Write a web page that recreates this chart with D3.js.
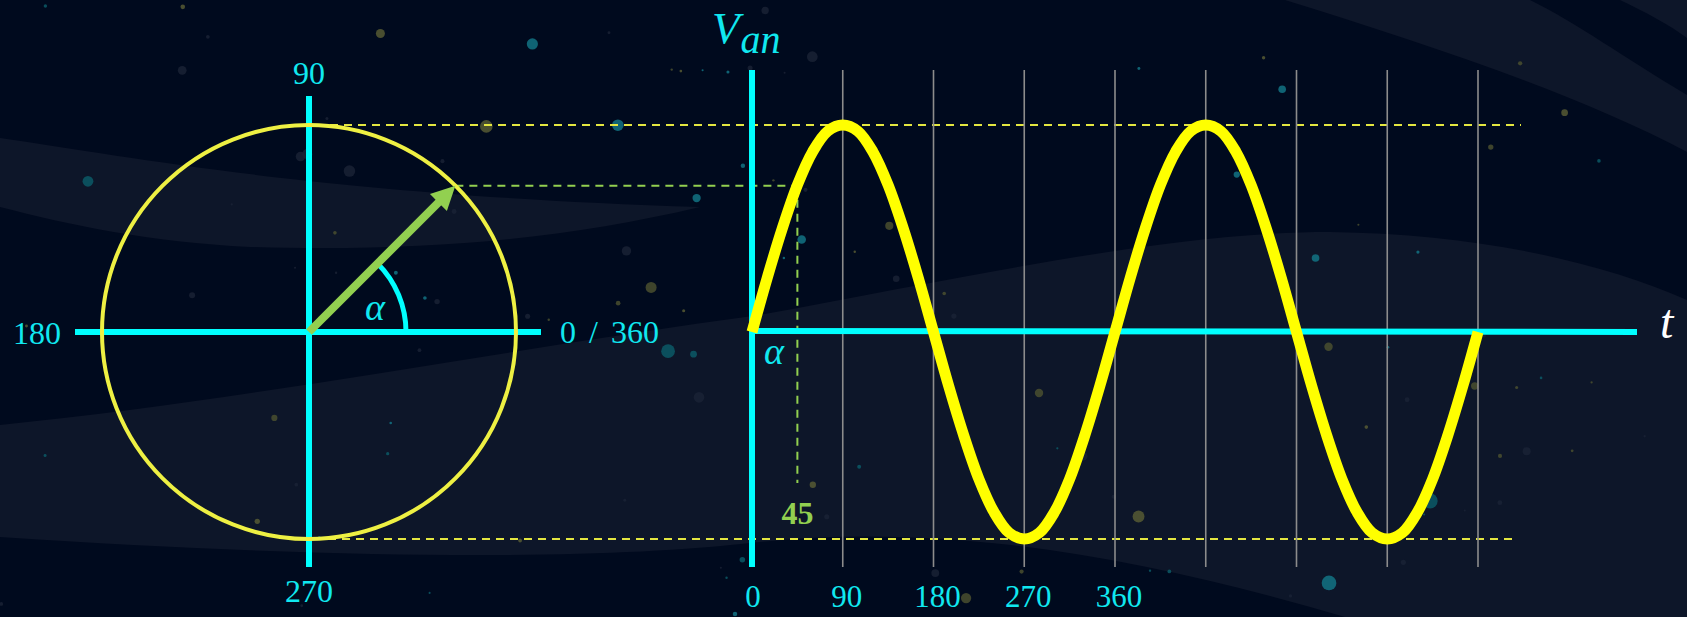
<!DOCTYPE html>
<html>
<head>
<meta charset="utf-8">
<script src="https://cdn.jsdelivr.net/npm/d3@7"></script>
<style>
  html, body { margin: 0; padding: 0; background: #000a1e; overflow: hidden; }
  svg { display: block; }
  text { font-family: "Liberation Serif", "DejaVu Serif", serif; }
</style>
</head>
<body>
<div id="wrap"></div>
<script>
// phasor on the left, Van(t) on the right

var phasorAngle = 45;
var circleAngles = [0, 90, 180, 270];
var circleLabels = ['0 / 360', '90', '180', '270'];
var tickAngles = [0, 90, 180, 270, 360];
var tickLabels = ['0', '90', '180', '270', '360'];
var gridAngles = [90, 180, 270, 360, 450, 540, 630, 720];
var waveAngles = [0, 15, 30, 45, 60, 75, 90, 105, 120, 135, 150, 165, 180, 195, 210, 225, 240, 255, 270, 285, 300, 315, 330, 345, 360,
                  375, 390, 405, 420, 435, 450, 465, 480, 495, 510, 525, 540, 555, 570, 585, 600, 615, 630, 645, 660, 675, 690, 705, 720];
var waveValues = [0, 0.26, 0.5, 0.71, 0.87, 0.97, 1, 0.97, 0.87, 0.71, 0.5, 0.26, 0, -0.26, -0.5, -0.71, -0.87, -0.97, -1, -0.97, -0.87, -0.71, -0.5, -0.26, 0,
                  0.26, 0.5, 0.71, 0.87, 0.97, 1, 0.97, 0.87, 0.71, 0.5, 0.26, 0, -0.26, -0.5, -0.71, -0.87, -0.97, -1, -0.97, -0.87, -0.71, -0.5, -0.26, 0];

var W = 1687, H = 617;
var cyan = '#00ffff', cyanText = '#10e8f0', green = '#92d050', yellow = '#ffff00', circleYellow = '#eef043';

var svg = d3.select('#wrap').append('svg').attr('width', W).attr('height', H);

// background
var bg = svg.append('g');
bg.append('rect').attr('width', W).attr('height', H).attr('fill', '#000a1e');
var band = '#0d1629';
bg.append('path').attr('fill', band)
  .attr('d', 'M0,138 C150,160 330,195 700,207 C560,240 420,252 250,247 C150,242 70,225 0,207 Z');
bg.append('path').attr('fill', band)
  .attr('d', 'M0,425 C250,400 500,350 760,315 C1000,270 1180,232 1330,232 C1480,234 1600,262 1687,300 L1687,617 L1345,617 C1150,560 950,520 750,543 C600,560 350,560 0,537 Z');
bg.append('path').attr('fill', band)
  .attr('d', 'M1285,0 C1430,45 1580,95 1687,152 L1687,95 C1620,55 1580,25 1530,0 Z');
bg.append('path').attr('fill', band)
  .attr('d', 'M1620,0 C1645,12 1670,25 1687,38 L1687,0 Z');

var rnd = d3.randomLcg(7);
var starCols = ['#4d5230', '#0b5e6a', '#1a2336', '#5b5f35', '#13798a', '#1a2336'];
d3.range(120).forEach(function(){
    var c = starCols[Math.floor(rnd() * starCols.length)];
    bg.append('circle')
        .attr('cx', rnd() * W)
        .attr('cy', rnd() * H)
        .attr('r', 1 + rnd() * rnd() * 7)
        .attr('fill', c)
        .attr('opacity', 0.8);
});

// ---- left: phasor circle ----
var cx = 309, cy = 332;
var r = d3.scaleLinear().domain([0, 1]).range([0, 207]);
var rad = function(a){ return a * Math.PI / 180; };
var px = function(a, v){ return cx + r(v) * Math.cos(rad(a)); };
var py = function(a, v){ return cy - r(v) * Math.sin(rad(a)); };

// ---- right: wave scales ----
var x = d3.scaleLinear().domain([0, 720]).range([752, 1478]);
var y = d3.scaleLinear().domain([-1, 1]).range([539, 125]);

// dashed guides
var g = svg.append('g');
g.append('line').attr('x1', 330).attr('x2', 1521).attr('y1', y(1)).attr('y2', y(1))
  .attr('stroke', '#e3e640').attr('stroke-width', 2).attr('stroke-dasharray', '8,6');
g.append('line').attr('x1', 328).attr('x2', 1512).attr('y1', y(-1)).attr('y2', y(-1))
  .attr('stroke', '#e3e640').attr('stroke-width', 2).attr('stroke-dasharray', '8,6');
var sinA = Math.sin(rad(phasorAngle));
g.append('line').attr('x1', px(phasorAngle, 1)).attr('x2', x(phasorAngle))
  .attr('y1', y(sinA)).attr('y2', y(sinA))
  .attr('stroke', green).attr('stroke-width', 2).attr('stroke-dasharray', '8,6');
g.append('line').attr('x1', x(phasorAngle)).attr('x2', x(phasorAngle))
  .attr('y1', y(sinA)).attr('y2', 483)
  .attr('stroke', green).attr('stroke-width', 2).attr('stroke-dasharray', '8,6');

// grid
svg.append('g').selectAll('line').data(gridAngles).enter().append('line')
  .attr('x1', function(d){ return x(d); }).attr('x2', function(d){ return x(d); })
  .attr('y1', 70).attr('y2', 567)
  .attr('stroke', '#8c8c8c').attr('stroke-width', 1.6);

// left axes
var L = svg.append('g');
L.append('line').attr('x1', cx).attr('x2', cx).attr('y1', 96).attr('y2', 567)
  .attr('stroke', cyan).attr('stroke-width', 6);
L.append('line').attr('x1', 75).attr('x2', 541).attr('y1', cy).attr('y2', cy)
  .attr('stroke', cyan).attr('stroke-width', 6);
L.append('circle').attr('cx', cx).attr('cy', cy).attr('r', r(1))
  .attr('fill', 'none').attr('stroke', circleYellow).attr('stroke-width', 4);

// angle arc
var arcP = d3.path();
arcP.arc(cx, cy, 97, 0, -rad(phasorAngle), true);
L.append('path').attr('d', arcP.toString()).attr('fill', 'none')
  .attr('stroke', cyan).attr('stroke-width', 5);

// phasor arrow
var headLen = 24, headW = 12;
var tipX = px(phasorAngle, 1), tipY = py(phasorAngle, 1);
var ux = Math.cos(rad(phasorAngle)), uy = -Math.sin(rad(phasorAngle));
var bx = tipX - ux * headLen, by = tipY - uy * headLen;
L.append('line').attr('x1', cx).attr('y1', cy).attr('x2', bx + ux * 2).attr('y2', by + uy * 2)
  .attr('stroke', green).attr('stroke-width', 8);
L.append('path').attr('fill', green)
  .attr('d', 'M' + tipX + ',' + tipY + 'L' + (bx - uy * headW) + ',' + (by + ux * headW) +
             'L' + (bx + uy * headW) + ',' + (by - ux * headW) + 'Z');

L.append('text').attr('x', 375).attr('y', 320).attr('text-anchor', 'middle')
  .attr('font-style', 'italic').attr('font-size', 38).attr('fill', cyanText).text('α');

// circle labels
var lblPos = {
    0:   { x: 560, y: 343, a: 'start' },
    90:  { x: cx,  y: 84,  a: 'middle' },
    180: { x: 61,  y: 344, a: 'end' },
    270: { x: cx,  y: 602, a: 'middle' }
};
L.selectAll('text.cl').data(circleAngles).enter().append('text').attr('class', 'cl')
  .attr('x', function(d){ return lblPos[d].x; })
  .attr('y', function(d){ return lblPos[d].y; })
  .attr('text-anchor', function(d){ return lblPos[d].a; })
  .attr('font-size', 32).attr('word-spacing', 5).attr('fill', cyanText)
  .text(function(d, i){ return circleLabels[i]; });

// ---- right axes ----
var R = svg.append('g');
R.append('line').attr('x1', x(0)).attr('x2', x(0)).attr('y1', 70).attr('y2', 567)
  .attr('stroke', cyan).attr('stroke-width', 6);
R.append('line').attr('x1', x(0)).attr('x2', 1637).attr('y1', y(0) - 1).attr('y2', y(0))
  .attr('stroke', cyan).attr('stroke-width', 6);

var line = d3.line()
  .x(function(d, i){ return x(waveAngles[i]); })
  .y(function(d){ return y(d); })
  .curve(d3.curveCatmullRom);
R.append('path').datum(waveValues).attr('d', line)
  .attr('fill', 'none').attr('stroke', yellow).attr('stroke-width', 11)
  .attr('stroke-linejoin', 'round');

R.selectAll('text.tk').data(tickAngles).enter().append('text').attr('class', 'tk')
  .attr('x', function(d){ return x(d) + (d ? 4 : 1); })
  .attr('y', 607).attr('text-anchor', 'middle')
  .attr('font-size', 31).attr('fill', cyanText)
  .text(function(d, i){ return tickLabels[i]; });

R.append('text').attr('x', x(phasorAngle)).attr('y', 524).attr('text-anchor', 'middle')
  .attr('font-size', 32).attr('font-weight', 'bold').attr('fill', green).text(phasorAngle);

R.append('text').attr('x', 774).attr('y', 364).attr('text-anchor', 'middle')
  .attr('font-style', 'italic').attr('font-size', 38).attr('fill', cyanText).text('α');

var van = R.append('text').attr('x', 712).attr('y', 43).attr('font-style', 'italic').attr('fill', cyanText);
van.append('tspan').attr('font-size', 45).text('V');
van.append('tspan').attr('font-size', 40).attr('dy', 10).attr('dx', 1).text('an');

R.append('text').attr('x', 1660).attr('y', 338).attr('font-style', 'italic')
  .attr('font-size', 48).attr('fill', '#ffffff').text('t');
</script>
</body>
</html>
